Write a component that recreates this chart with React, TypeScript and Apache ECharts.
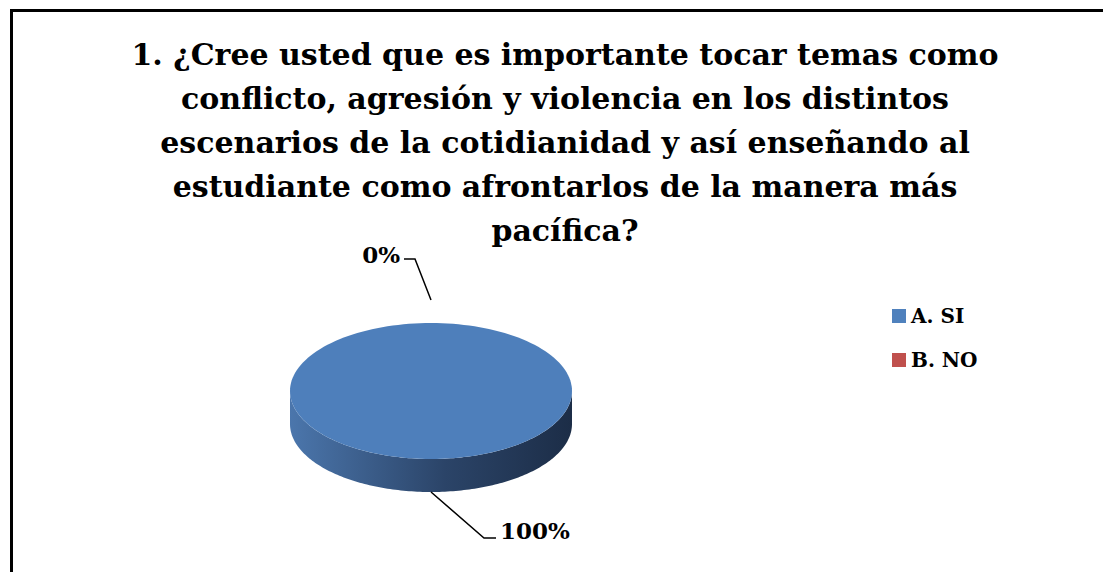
import React, { useEffect, useRef } from "react";
import * as echarts from "echarts";

const titleLines = [
  "1. ¿Cree usted que es importante tocar temas como",
  "conflicto, agresión y violencia en los distintos",
  "escenarios de la cotidianidad y así enseñando al",
  "estudiante como afrontarlos de la manera más",
  "pacífica?",
];
const categories = ["A. SI", "B. NO"];
const values = [100, 0];
const percentLabels = ["100%", "0%"];
const colors = ["#4f81bd", "#c0504d"];

const FONT = "'DejaVu Serif', 'Liberation Serif', serif";

export default function App() {
  const ref = useRef<HTMLDivElement>(null);
  useEffect(() => {
    if (!ref.current) return;
    const chart = echarts.init(ref.current, undefined, { renderer: "svg" });
    const total = values.reduce((a, b) => a + b, 0);
    const cx = 431, cy = 391, rx = 141, ry = 68, depth = 33;
    const pt = (t: number, dy = 0) => [cx + rx * Math.sin(t), cy - ry * Math.cos(t) + dy];

    const makeSeries = (idx: number) => ({
      type: "custom",
      name: categories[idx],
      coordinateSystem: "none",
      data: [[values[idx]]],
      z: 10 - idx,
      renderItem: (params: any, api: any) => {
        let start = 0;
        for (let i = 0; i < idx; i++) start += values[i];
        const a = (start / total) * Math.PI * 2;
        const b = ((start + values[idx]) / total) * Math.PI * 2;
        const mid = (a + b) / 2;
        const children: any[] = [];
        const N = 160;
        if (b > a) {
          const s0 = Math.max(a, Math.PI / 2);
          const s1 = Math.min(b, (Math.PI * 3) / 2);
          if (s1 > s0) {
            const pts: number[][] = [];
            for (let i = 0; i <= N; i++) pts.push(pt(s0 + ((s1 - s0) * i) / N));
            for (let i = N; i >= 0; i--) pts.push(pt(s0 + ((s1 - s0) * i) / N, depth));
            children.push({
              type: "polygon",
              shape: { points: pts },
              style: {
                fill: new echarts.graphic.LinearGradient(1, 0, 0, 0, [
                  { offset: 0, color: "#1c2d47" },
                  { offset: 0.45, color: "#2b4468" },
                  { offset: 1, color: "#4b76ac" },
                ]),
              },
            });
          }
          const tp: number[][] = [];
          const full = b - a >= Math.PI * 2 - 1e-9;
          if (!full) tp.push([cx, cy]);
          for (let i = 0; i <= N; i++) tp.push(pt(a + ((b - a) * i) / N));
          children.push({
            type: "polygon",
            shape: { points: tp },
            style: { fill: idx === 0 ? "#4e7fbb" : colors[idx] },
          });
        }
        const upper = Math.cos(mid) >= 0;
        let anchor: number[], elbow: number[], end: number[], tx: number, ty: number, align: string;
        if (upper) {
          const p = pt(mid);
          anchor = [p[0], p[1] - 23];
          elbow = [anchor[0] - 16, anchor[1] - 41];
          end = [elbow[0] - 11, elbow[1]];
          tx = end[0] - 4; ty = end[1] - 5; align = "right";
        } else {
          const p = pt(mid, depth);
          anchor = [p[0], p[1]];
          elbow = [anchor[0] + 53, anchor[1] + 46];
          end = [elbow[0] + 12, elbow[1]];
          tx = end[0] + 4; ty = end[1] - 8; align = "left";
        }
        children.push({
          type: "polyline",
          shape: { points: [anchor, elbow, end] },
          style: { stroke: "#000", lineWidth: 1.5, fill: "none" },
        });
        children.push({
          type: "text",
          style: {
            text: percentLabels[idx],
            x: tx,
            y: ty,
            align,
            verticalAlign: "middle",
            fill: "#000",
            fontFamily: FONT,
            fontWeight: "bold",
            fontSize: 23,
          },
        });
        return { type: "group", children };
      },
    });

    chart.setOption({
      animation: false,
      color: colors,
      title: {
        text: titleLines.join("\n"),
        left: 560,
        top: 27,
        textAlign: "center",
        textStyle: {
          fontFamily: FONT,
          fontWeight: "bold",
          fontSize: 30,
          lineHeight: 44,
          color: "#000",
        },
      },
      legend: {
        data: categories,
        orient: "vertical",
        left: 892,
        top: 306,
        padding: 0,
        icon: "rect",
        itemWidth: 14,
        itemHeight: 14,
        itemGap: 24,
        textStyle: {
          fontFamily: FONT,
          fontWeight: "bold",
          fontSize: 20,
          color: "#000",
        },
      },
      graphic: [
        {
          type: "line",
          shape: { x1: 11.5, y1: 9, x2: 11.5, y2: 572 },
          style: { stroke: "#000", lineWidth: 3 },
          silent: true,
        },
        {
          type: "line",
          shape: { x1: 10, y1: 10.5, x2: 1103, y2: 10.5 },
          style: { stroke: "#000", lineWidth: 3 },
          silent: true,
        },
      ],
      series: [makeSeries(0), makeSeries(1)],
    });
    return () => chart.dispose();
  }, []);
  return (
    <div
      ref={ref}
      style={{ position: "absolute", left: 0, top: 0, width: 1103, height: 572, background: "#fff" }}
    />
  );
}
